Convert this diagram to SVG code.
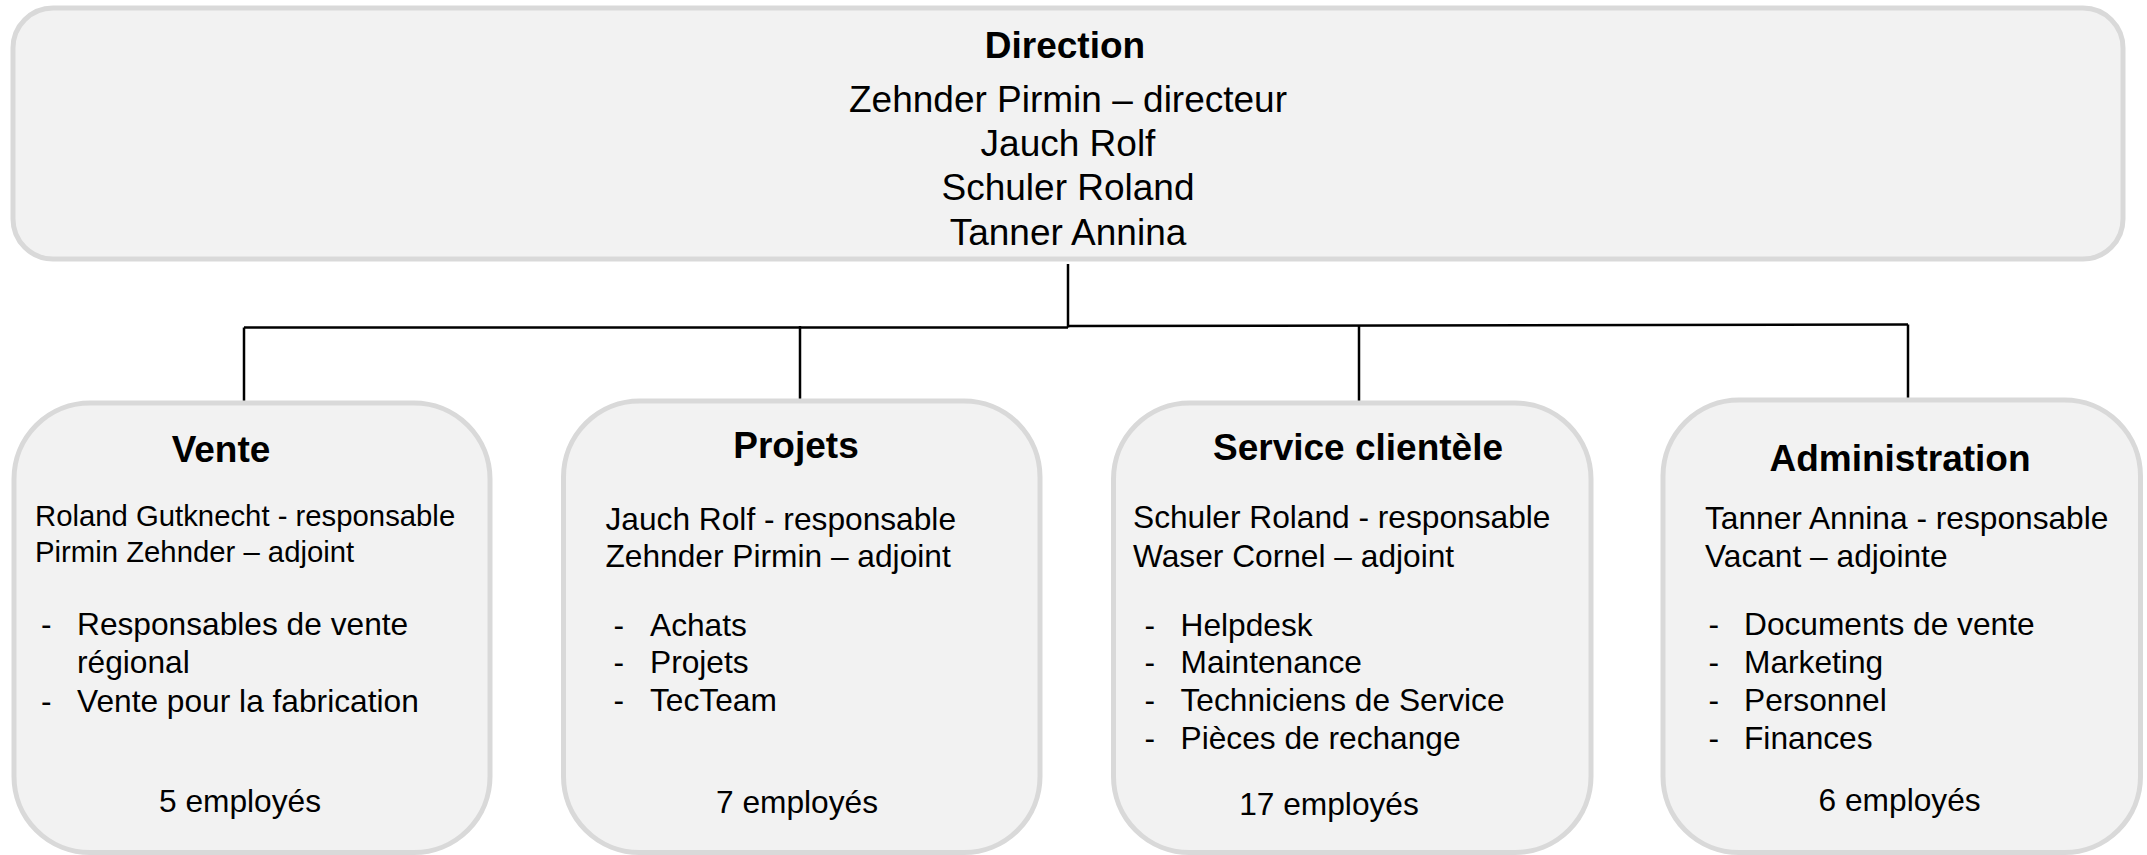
<svg xmlns="http://www.w3.org/2000/svg" width="2147" height="855" viewBox="0 0 2147 855">
<style>
.box{fill:#f2f2f2;stroke:#d9d9d9;stroke-width:5}
.t{font-family:"Liberation Sans",Arial,sans-serif;fill:#000}
.title{font-size:37px;font-weight:bold}
.dir{font-size:37px}
.hd{font-size:31.7px}
.hdv{font-size:29.3px}
.it{font-size:31.7px}
.mid{text-anchor:middle}
.con{stroke:#000;stroke-width:2.5;fill:none}
</style>
<rect width="2147" height="855" fill="#fff"/>
<g id="connectors">
<path class="con" d="M1068 264V327.5"/>
<path class="con" d="M244 327.5H1068"/>
<path class="con" d="M1068 326L1908 324.5"/>
<path class="con" d="M244 327.5V401"/>
<path class="con" d="M800 326V399"/>
<path class="con" d="M1359 325.5V401"/>
<path class="con" d="M1908 324.5V398"/>
</g>
<g id="node-direction">
<rect class="box" x="13" y="8" width="2110" height="251" rx="40"/>
<text class="t title mid" x="1065" y="58">Direction</text>
<text class="t dir mid"><tspan x="1068" y="112">Zehnder Pirmin – directeur</tspan><tspan x="1068" y="156">Jauch Rolf</tspan><tspan x="1068" y="200">Schuler Roland</tspan><tspan x="1068" y="245">Tanner Annina</tspan></text>
</g>
<g id="node-vente">
<rect class="box" x="14" y="403" width="476" height="449.5" rx="76"/>
<text class="t title mid" x="221" y="462">Vente</text>
<text class="t hdv"><tspan x="35" y="526">Roland Gutknecht - responsable</tspan><tspan x="35" y="562">Pirmin Zehnder – adjoint</tspan></text>
<text class="t it"><tspan x="41" y="635">-</tspan><tspan x="77" y="635">Responsables de vente</tspan><tspan x="77" y="673.3">régional</tspan><tspan x="41" y="711.7">-</tspan><tspan x="77" y="711.7">Vente pour la fabrication</tspan></text>
<text class="t it mid" x="240" y="812">5 employés</text>
</g>
<g id="node-projets">
<rect class="box" x="563.5" y="401" width="476.5" height="451.5" rx="76"/>
<text class="t title mid" x="796" y="458">Projets</text>
<text class="t hd"><tspan x="605.5" y="530">Jauch Rolf - responsable</tspan><tspan x="605.5" y="567.3">Zehnder Pirmin – adjoint</tspan></text>
<text class="t it"><tspan x="613.5" y="635.7">-</tspan><tspan x="650" y="635.7">Achats</tspan><tspan x="613.5" y="673.3">-</tspan><tspan x="650" y="673.3">Projets</tspan><tspan x="613.5" y="711">-</tspan><tspan x="650" y="711">TecTeam</tspan></text>
<text class="t it mid" x="797" y="813">7 employés</text>
</g>
<g id="node-service">
<rect class="box" x="1113.5" y="403" width="477.5" height="449.5" rx="76"/>
<text class="t title mid" x="1358" y="460">Service clientèle</text>
<text class="t hd"><tspan x="1133" y="528.3">Schuler Roland - responsable</tspan><tspan x="1133" y="566.7">Waser Cornel – adjoint</tspan></text>
<text class="t it"><tspan x="1144.5" y="635.7">-</tspan><tspan x="1180.5" y="635.7">Helpdesk</tspan><tspan x="1144.5" y="673.3">-</tspan><tspan x="1180.5" y="673.3">Maintenance</tspan><tspan x="1144.5" y="711">-</tspan><tspan x="1180.5" y="711">Techniciens de Service</tspan><tspan x="1144.5" y="749">-</tspan><tspan x="1180.5" y="749">Pièces de rechange</tspan></text>
<text class="t it mid" x="1329" y="815">17 employés</text>
</g>
<g id="node-administration">
<rect class="box" x="1663" y="400" width="477.5" height="452.5" rx="76"/>
<text class="t title mid" x="1900" y="471">Administration</text>
<text class="t hd"><tspan x="1705" y="529.3">Tanner Annina - responsable</tspan><tspan x="1705" y="566.7">Vacant – adjointe</tspan></text>
<text class="t it"><tspan x="1708.5" y="635">-</tspan><tspan x="1744" y="635">Documents de vente</tspan><tspan x="1708.5" y="673">-</tspan><tspan x="1744" y="673">Marketing</tspan><tspan x="1708.5" y="711">-</tspan><tspan x="1744" y="711">Personnel</tspan><tspan x="1708.5" y="749">-</tspan><tspan x="1744" y="749">Finances</tspan></text>
<text class="t it mid" x="1899.6" y="811">6 employés</text>
</g>
</svg>
